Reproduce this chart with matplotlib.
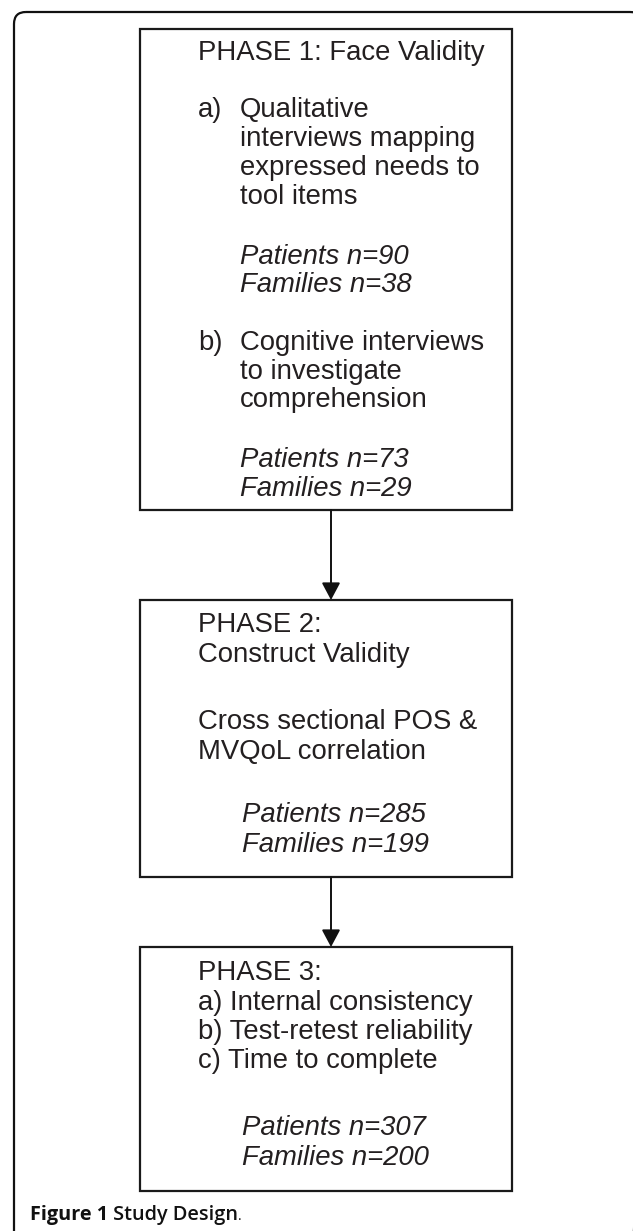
import matplotlib
matplotlib.use("Agg")
import matplotlib.pyplot as plt
from matplotlib.patches import FancyBboxPatch, Rectangle, FancyArrowPatch

# box contents
phase1_title = ["PHASE 1: Face Validity"]
phase1_a_label = "a)"
phase1_a_text = ["Qualitative", "interviews mapping", "expressed needs to", "tool items"]
phase1_a_counts = ["Patients n=90", "Families n=38"]
phase1_b_label = "b)"
phase1_b_text = ["Cognitive interviews", "to investigate", "comprehension"]
phase1_b_counts = ["Patients n=73", "Families n=29"]

phase2_title = ["PHASE 2:", "Construct Validity"]
phase2_text = ["Cross sectional POS &", "MVQoL correlation"]
phase2_counts = ["Patients n=285", "Families n=199"]

phase3_title = ["PHASE 3:"]
phase3_text = ["a) Internal consistency", "b) Test-retest reliability", "c) Time to complete"]
phase3_counts = ["Patients n=307", "Families n=200"]

caption_parts = ["Figure 1", " Study Design", "."]

TXT = "#231f20"
FONT = "Liberation Sans"
FS = 19.8


def put_lines(ax, lines, x, y0, step, italic=False):
    for i, line in enumerate(lines):
        ax.text(x, y0 + i * step, line, fontsize=FS, family=FONT, color=TXT,
                style="italic" if italic else "normal", ha="left", va="center")


def plot_design():
    fig = plt.figure(figsize=(6.33, 12.31), dpi=100)
    ax = fig.add_axes([0, 0, 1, 1])
    ax.set_xlim(0, 633)
    ax.set_ylim(1231, 0)
    ax.axis("off")

    # outer rounded frame (clipped at right and bottom)
    ax.add_patch(FancyBboxPatch((14, 12), 628, 1260,
                                boxstyle="round,pad=0,rounding_size=12",
                                fill=False, lw=1.6, ec="#111111"))

    boxes = [(29, 510), (600, 877), (947, 1191)]
    x0, x1 = 140, 512
    for top, bottom in boxes:
        ax.add_patch(Rectangle((x0, top), x1 - x0, bottom - top, fill=False,
                               lw=1.6, ec="#1a1a1a"))

    # arrows between boxes
    ax_x = 331
    for (t0, b0), (t1, b1) in zip(boxes[:-1], boxes[1:]):
        ax.add_patch(FancyArrowPatch((ax_x, b0), (ax_x, t1),
                                     arrowstyle="-|>,head_length=0.75,head_width=0.4",
                                     mutation_scale=14, lw=1.4, color="#111111",
                                     shrinkA=0, shrinkB=0))

    lx, tx = 198, 240
    # phase 1
    put_lines(ax, phase1_title, lx, 53, 29)
    put_lines(ax, [phase1_a_label], lx, 110, 29)
    put_lines(ax, phase1_a_text, tx, 110, 29)
    put_lines(ax, phase1_a_counts, tx, 257, 28.5, italic=True)
    put_lines(ax, [phase1_b_label], lx, 343, 29)
    put_lines(ax, phase1_b_text, tx, 343, 28.7)
    put_lines(ax, phase1_b_counts, tx, 460, 28.5, italic=True)

    # phase 2
    put_lines(ax, phase2_title, lx, 625, 30)
    put_lines(ax, phase2_text, lx, 722, 30)
    put_lines(ax, phase2_counts, tx + 2, 815, 30, italic=True)

    # phase 3
    put_lines(ax, phase3_title, lx, 973, 29.5)
    put_lines(ax, phase3_text, lx, 1003, 28.8)
    put_lines(ax, phase3_counts, tx + 2, 1128, 30, italic=True)

    # caption with mixed weights
    renderer = fig.canvas.get_renderer()
    cx = 30
    weights = ["bold", "semibold", "normal"]
    sizes = [14.3, 14.3, 10]
    for part, w, s in zip(caption_parts, weights, sizes):
        t = ax.text(cx, 1220, part, fontsize=s, family="Open Sans", weight=w,
                    color="#111111", ha="left", va="baseline")
        bb = t.get_window_extent(renderer=renderer)
        cx += bb.width * 633 / fig.bbox.width

    fig.savefig("out.png", dpi=100)


if __name__ == "__main__":
    plot_design()
